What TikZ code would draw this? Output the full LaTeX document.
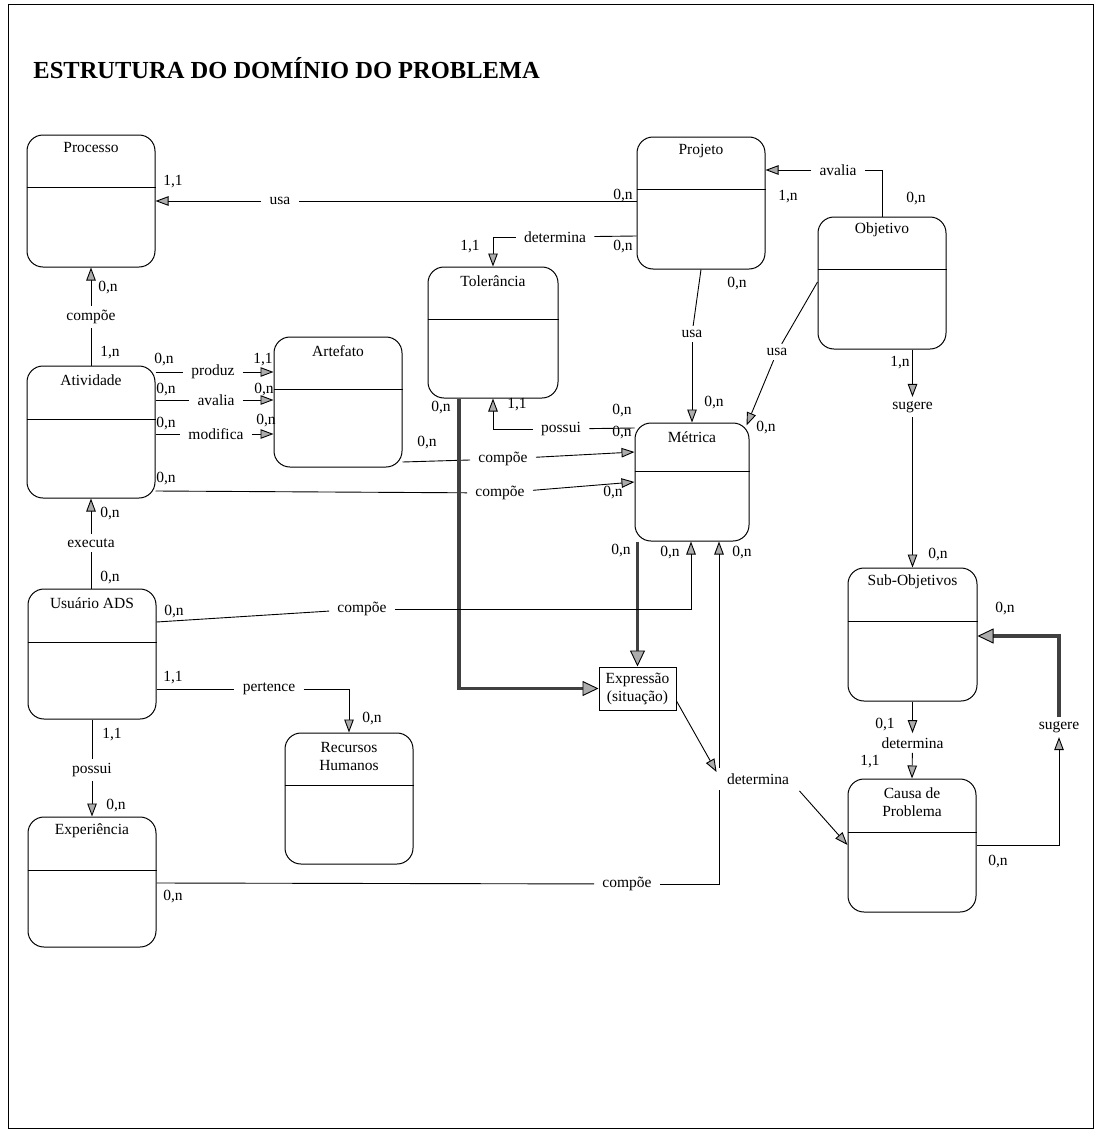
\documentclass[tikz,border=0pt]{standalone}
\usepackage{fontspec}
\setmainfont{Liberation Serif}
\usetikzlibrary{arrows.meta}
\newcommand\lblfont{\fontsize{15.5}{18}\selectfont}
\tikzset{
  entbox/.style={draw, rounded corners=16pt, inner sep=0pt, line width=1pt},
  divline/.style={line width=0.9pt},
  etitle/.style={font=\lblfont, align=center, inner sep=0pt},
  rel/.style={font=\lblfont, inner xsep=8pt, inner ysep=4pt},
  card/.style={font=\lblfont, inner sep=0pt},
  arr/.style={-{Triangle[length=13pt,width=9.5pt,fill=gray!65]}},
  thk/.style={draw=black!75, line width=3.2pt},
  thkarr/.style={thk, -{Triangle[length=16pt,width=15pt,fill=gray!65,color=black,line width=0.9pt]}},
}
\newcommand\ent[8]{%
  \node[entbox, minimum width={#4pt-#2pt}, minimum height={#5pt-#3pt}] (#1) at ({(#2+#4)/2},{(#3+#5)/2}) {};
  \draw[divline] (#1.west |- 0,#6) -- (#1.east |- 0,#6);
  \node[etitle] (#1-t) at ({(#2+#4)/2},#7) {#8};
}
\begin{document}
\begin{tikzpicture}[x=1pt,y=-1pt,line width=0.9pt]
\useasboundingbox (0,0) rectangle (1097,1132);
\draw[line width=1pt] (8,5) rectangle (1093,1128);
\node[anchor=west, font=\fontsize{24.5}{28}\selectfont\bfseries, inner sep=0pt] (title) at (33,68) {ESTRUTURA DO DOMÍNIO DO PROBLEMA};

% entities
\ent{proc}{27}{135}{155}{267}{187}{148}{Processo}
\ent{proj}{637}{137}{765}{269}{189}{151}{Projeto}
\ent{obj}{818}{217}{946}{349}{269}{230}{Objetivo}
\ent{tol}{428}{267}{558}{398}{319}{281}{Tolerância}
\ent{art}{274}{337}{402}{467}{389}{351}{Artefato}
\ent{ativ}{27}{366}{155}{498}{419}{380}{Atividade}
\ent{metr}{635}{423}{749}{541}{471}{437}{Métrica}
\ent{usu}{28}{589}{156}{719}{642}{603}{Usuário ADS}
\ent{rh}{285}{733}{413}{864}{785}{756}{Recursos\\Humanos}
\ent{exp}{28}{817}{156}{947}{870}{831}{Experiência}
\ent{sub}{848}{568}{977}{701}{621}{582}{Sub-Objetivos}
\ent{causa}{848}{779}{976}{912}{832}{802}{Causa de\\Problema}
\node[draw, line width=1pt, minimum width=77pt, minimum height=43pt, inner sep=0pt, font=\lblfont, align=center] (expr) at (637.5,688.5) {Expressão\\(situação)};

% Projeto -> Processo : usa
\node[rel] (r1) at (280,201) {usa};
\draw (proj.west |- 0,201) -- (r1);
\draw[arr] (r1) -- (proc.east |- 0,201);
\node[card] at (173,182) {1,1};
\node[card] at (623,196) {0,n};

% Projeto -> Tolerancia : determina
\node[rel] (r2) at (555,237) {determina};
\draw (proj.west |- 0,236) -- (r2);
\draw[arr] (r2) -| (tol.north);
\node[card] at (470,247) {1,1};
\node[card] at (623,247) {0,n};

% Projeto -> Metrica : usa
\node[rel] (r3) at (692,334) {usa};
\draw (proj.south) -- (r3);
\draw[arr] (r3) -- (metr.north);
\node[card] at (737,284) {0,n};
\node[card] at (714,403) {0,n};

% Objetivo -> Projeto : avalia
\node[rel] (r4) at (838,170) {avalia};
\draw (obj.north) |- (r4);
\draw[arr] (r4) -- (proj.east |- 0,170);
\node[card] at (788,197) {1,n};
\node[card] at (916,199) {0,n};

% Objetivo -> Metrica : usa
\node[rel] (r5) at (777,352) {usa};
\draw (obj.west |- 0,282) -- (r5);
\draw[arr] (r5) -- ([shift={(-3,3)}]metr.north east);
\node[card] at (766,428) {0,n};

% Objetivo -> Sub-Objetivos : sugere
\node[rel] (r6) at (912.5,407) {sugere};
\draw[arr] (obj.south -| sub.north) -- (r6);
\draw[arr] (r6) -- (sub.north);
\node[card] at (900,363) {1,n};
\node[card] at (938,555) {0,n};

% Sub-Objetivos -> Causa : determina
\node[rel] (r7) at (912.5,743) {determina};
\draw[arr] (sub.south) -- (r7);
\draw[arr] (r7) -- (causa.north);
\node[card] at (885,725) {0,1};
\node[card] at (870,762) {1,1};

% Causa -> Sub-Objetivos : sugere
\node[rel] (r8) at (1059,727) {sugere};
\draw[arr] (causa.east |- 0,845) -| (r8);
\draw[thkarr] (r8) |- (sub.east |- 0,636);
\node[card] at (1005,609) {0,n};
\node[card] at (998,862) {0,n};

% Atividade -> Processo : compoe
\node[rel] (r9) at (91,317) {compõe};
\draw (ativ.north) -- (r9);
\draw[arr] (r9) -- (proc.south);
\node[card] at (108,288) {0,n};
\node[card] at (110,353) {1,n};

% Atividade -> Artefato
\node[rel] (r10) at (213,372) {produz};
\draw (ativ.east |- 0,372) -- (r10);
\draw[arr] (r10) -- (art.west |- 0,372);
\node[card] at (164,360) {0,n};
\node[card] at (263,360) {1,1};

\node[rel] (r11) at (216,400) {avalia};
\draw (ativ.east |- 0,400) -- (r11);
\draw[arr] (r11) -- (art.west |- 0,400);
\node[card] at (166,390) {0,n};
\node[card] at (264,390) {0,n};

\node[rel] (r12) at (216,434) {modifica};
\draw (ativ.east |- 0,434) -- (r12);
\draw[arr] (r12) -- (art.west |- 0,434);
\node[card] at (166,424) {0,n};
\node[card] at (266,421) {0,n};

% Atividade -> Metrica : compoe
\node[rel] (r13) at (500,493) {compõe};
\draw (ativ.east |- 0,491) -- (r13);
\draw[arr] (r13) -- (metr.west |- 0,482);
\node[card] at (166,479) {0,n};
\node[card] at (613,493) {0,n};

% Artefato -> Metrica : compoe
\node[rel] (r14) at (503,459) {compõe};
\draw (art.east |- 0,462) -- (r14);
\draw[arr] (r14) -- (metr.west |- 0,452);
\node[card] at (427,443) {0,n};

% Metrica -> Tolerancia : possui
\node[rel] (r15) at (561,429) {possui};
\draw (metr.west |- 0,428) -- (r15);
\draw[arr] (r15) -| (tol.south);
\node[card] at (517,405) {1,1};
\node[card] at (622,411) {0,n};
\node[card] at (622,433) {0,n};

% thick: Tolerancia -> Expressao, Metrica -> Expressao
\draw[thkarr] (tol.south -| 459,0) |- (expr.west);
\node[card] at (441,408) {0,n};
\draw[thkarr] (metr.south -| expr.north) -- (expr.north);
\node[card] at (621,551) {0,n};

% Usuario -> Metrica : compoe
\node[rel] (r18) at (362,609) {compõe};
\draw (usu.east |- 0,622) -- (r18);
\draw[arr] (r18) -| (metr.south -| 691,0);
\node[card] at (174,612) {0,n};
\node[card] at (670,553) {0,n};

% Experiencia -> Metrica : compoe
\node[rel] (r19) at (627,884) {compõe};
\draw (exp.east |- 0,883) -- (r19);
\draw[arr] (r19) -| (metr.south -| 719,0);
\node[card] at (173,897) {0,n};
\node[card] at (742,553) {0,n};

% Expressao -> Causa : determina
\node[rel, fill=white, inner xsep=10pt, inner ysep=6pt] (r20) at (758,779) {determina};
\draw[arr] (expr.east |- 0,701) -- ([yshift=7pt]r20.west);
\draw[arr] (r20.south east) -- (causa.west |- 0,845);

% Usuario -> Atividade : executa
\node[rel] (r21) at (91,543) {executa};
\draw (ativ.south |- usu.north) -- (r21);
\draw[arr] (r21) -- (ativ.south);
\node[card] at (110,578) {0,n};
\node[card] at (110,514) {0,n};

% Usuario -> Recursos Humanos : pertence
\node[rel] (r22) at (269,689) {pertence};
\draw (usu.east |- 0,689) -- (r22);
\draw[arr] (r22) -| (rh.north);
\node[card] at (173,678) {1,1};
\node[card] at (372,719) {0,n};

% Usuario -> Experiencia : possui
\node[rel] (r23) at (92,770) {possui};
\draw (usu.south) -- (r23);
\draw[arr] (r23) -- (exp.north);
\node[card] at (112,735) {1,1};
\node[card] at (116,806) {0,n};
\end{tikzpicture}
\end{document}
